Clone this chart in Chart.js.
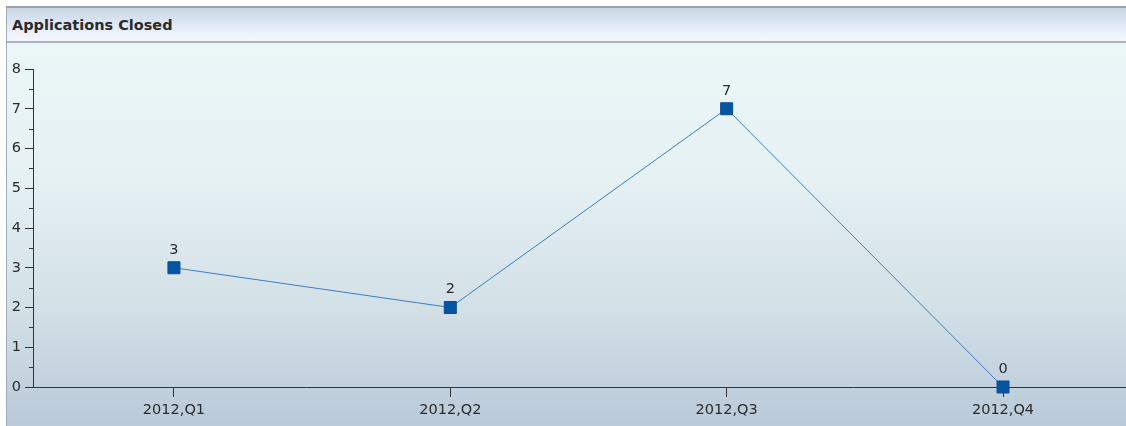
<!DOCTYPE html>
<html>
<head>
<meta charset="utf-8">
<title>Applications Closed</title>
<script src="https://cdn.jsdelivr.net/npm/chart.js@4.4.1/dist/chart.umd.min.js"></script>
<style>
  html, body { margin: 0; padding: 0; background: #fff; width: 1126px; height: 426px; overflow: hidden; }
  .panel {
    position: absolute; left: 6px; top: 6px; width: 1120px; height: 420px;
    border-left: 1px solid #a3abb4; border-top: 2px solid #9aa3ad;
  }
  .panel-header {
    height: 33px; border-bottom: 2px solid #a9b3be;
    background: linear-gradient(to bottom, #c9d5e3 0%, #d8e3f1 35%, #eef2fb 80%, #f5f7fd 100%);
    font: bold 14.5px "DejaVu Sans", sans-serif; color: #2b2b2b;
    line-height: 34px; padding-left: 5px;
  }
  .panel-body {
    height: 385px;
    background: linear-gradient(to bottom, #ebf7f7 0%, #e5f1f3 35%, #d2dfe6 70%, #b9c9d9 100%);
  }
  #chart { position: absolute; left: 0; top: 0; }
</style>
</head>
<body>
<div class="panel">
  <div class="panel-header">Applications Closed</div>
  <div class="panel-body"></div>
</div>
<canvas id="chart" width="1126" height="426"></canvas>
<script>
//Chart data//
const quarters = ["2012,Q1", "2012,Q2", "2012,Q3", "2012,Q4"];
const applicationsClosed = [3, 2, 7, 0];
const yTicks = [0, 1, 2, 3, 4, 5, 6, 7, 8];

const tickFont = { family: "DejaVu Sans", size: 14.5 };
const textColor = "#2b2b2b";

//Plugins//
const minorTicks = {
  id: "minorTicks",
  afterDraw: (chart) => {
    const y = chart.scales.y;
    const ctx = chart.ctx;
    ctx.save();
    ctx.strokeStyle = "#333";
    ctx.lineWidth = 1;
    for (let i = 0; i < yTicks.length - 1; i++) {
      const py = Math.round(y.getPixelForValue(yTicks[i] + 0.5)) + 0.5;
      ctx.beginPath();
      ctx.moveTo(y.right - 4, py);
      ctx.lineTo(y.right, py);
      ctx.stroke();
    }
    ctx.restore();
  }
};

const valueLabels = {
  id: "valueLabels",
  afterDatasetsDraw: (chart) => {
    const ctx = chart.ctx;
    const meta = chart.getDatasetMeta(0);
    ctx.save();
    ctx.font = "14.5px 'DejaVu Sans'";
    ctx.fillStyle = textColor;
    ctx.textAlign = "center";
    ctx.textBaseline = "middle";
    meta.data.forEach((point, i) => {
      ctx.fillText(String(applicationsClosed[i]), point.x, point.y - 18);
    });
    ctx.restore();
  }
};

const data = {
  datasets: [{
    label: "Applications Closed",
    data: applicationsClosed.map((v, i) => ({ x: i, y: v })),
    borderColor: "#3b7fc1",
    borderWidth: 1,
    pointStyle: "rect",
    pointRadius: 8.5,
    pointHoverRadius: 8.5,
    pointBackgroundColor: "#0655a3",
    pointBorderColor: "#0a4f96",
    pointBorderWidth: 1,
    tension: 0,
    clip: false
  }]
};

const config = {
  type: "line",
  data: data,
  plugins: [minorTicks, valueLabels],
  options: {
    responsive: false,
    animation: false,
    events: [],
    layout: { autoPadding: false, padding: { top: 69, left: 0, right: 0, bottom: 0 } },
    plugins: {
      legend: { display: false },
      tooltip: { enabled: false },
      title: { display: false }
    },
    scales: {
      x: {
        type: "linear",
        min: -0.51,
        max: 3.445,
        afterBuildTicks: (scale) => {
          scale.ticks = quarters.map((q, i) => ({ value: i }));
        },
        afterFit: (scale) => {
          scale.height = 39;
          scale.paddingLeft = 0;
          scale.paddingRight = 0;
        },
        ticks: {
          callback: (value) => quarters[value],
          font: tickFont,
          color: textColor,
          padding: 5,
          maxRotation: 0,
          autoSkip: false
        },
        grid: { drawOnChartArea: false, drawTicks: true, tickLength: 10, color: "#333" },
        border: { display: true, color: "#333", width: 1 }
      },
      y: {
        min: 0,
        max: 8,
        afterBuildTicks: (scale) => {
          scale.ticks = yTicks.map((v) => ({ value: v }));
        },
        afterFit: (scale) => { scale.width = 33; },
        ticks: {
          font: tickFont,
          color: textColor,
          padding: 4
        },
        grid: { drawOnChartArea: false, drawTicks: true, tickLength: 8, color: "#333" },
        border: { display: true, color: "#333", width: 1 }
      }
    }
  }
};

const myChart = new Chart(document.querySelector("#chart").getContext("2d"), config);
</script>
</body>
</html>
